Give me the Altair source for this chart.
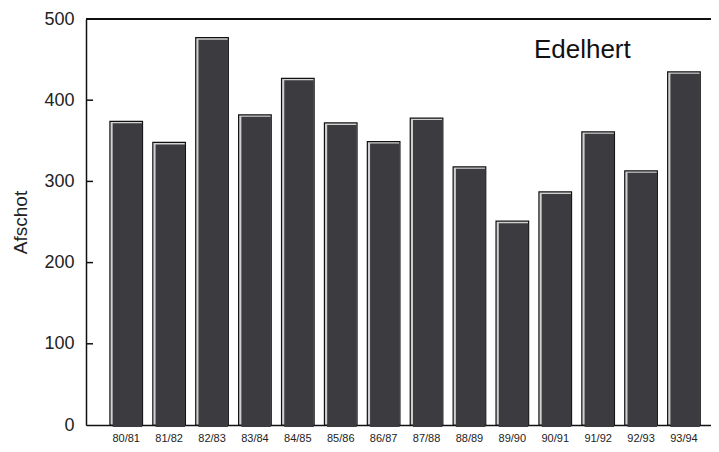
import altair as alt
import pandas as pd

seasons = ["80/81", "81/82", "82/83", "83/84", "84/85", "85/86", "86/87",
           "87/88", "88/89", "89/90", "90/91", "91/92", "92/93", "93/94"]
afschot = [374, 348, 477, 382, 427, 372, 349, 378, 318, 251, 287, 361, 313, 435]
tick_values = [100, 200, 300, 400]
y_labels = [0, 100, 200, 300, 400, 500]

W = 625
H = 406
FONT = "Liberation Sans"

df = pd.DataFrame({"seizoen": seasons, "afschot": afschot})
ticks_df = pd.DataFrame({"v": tick_values})

xscale = alt.Scale(domain=seasons, paddingInner=0.24, paddingOuter=0.404, align=0.69)
yscale = alt.Scale(domain=[0, 500], nice=False, zero=True)

x_enc = alt.X("seizoen:N", scale=xscale, sort=seasons, title=None,
              axis=alt.Axis(labelAngle=0, labelFontSize=11, labelFont=FONT,
                            labelColor="#222", labelPadding=7, ticks=False, tickSize=0,
                            domainColor="#111", domainWidth=1.5, grid=False))
y_enc = alt.Y("afschot:Q", scale=yscale,
              axis=alt.Axis(values=y_labels, labelFontSize=18, labelFont=FONT,
                            labelColor="#222", labelPadding=12, ticks=False, tickSize=0,
                            domainColor="#111", domainWidth=1.5, grid=False,
                            title="Afschot", titleFont=FONT, titleFontSize=19,
                            titleFontWeight="normal", titleColor="#222",
                            titleAngle=270, titleX=-66, titleY=203,
                            titleAlign="center", titleBaseline="middle"))

base_bar = alt.Chart(df).mark_bar(fill="#d0d0d0", stroke="#111", strokeWidth=1.2).encode(
    x=x_enc, y=y_enc)
inner_bar = alt.Chart(df).mark_bar(fill="#3b3b40", width=29.5, xOffset=1.2, yOffset=2).encode(
    x=alt.X("seizoen:N", scale=xscale, sort=seasons),
    y=alt.Y("afschot:Q", scale=yscale))

inward_ticks = alt.Chart(ticks_df).mark_rule(color="#111", strokeWidth=1.5).encode(
    y=alt.Y("v:Q", scale=yscale), x=alt.value(0), x2=alt.value(7))

top_line = alt.Chart(ticks_df).mark_rule(color="#111", strokeWidth=1.5).encode(
    y=alt.value(0), x=alt.value(0), x2=alt.value(W))

chart = alt.layer(base_bar, inner_bar, inward_ticks, top_line).properties(
    width=W, height=H,
    title=alt.TitleParams("Edelhert", anchor="end", font=FONT, fontSize=26,
                          fontWeight="normal", color="#111", dx=-81, dy=57),
    autosize=alt.AutoSizeParams(type="none"),
    padding={"left": 78, "top": 11, "right": 0, "bottom": 19},
).configure_view(stroke=None).configure(background="white")

chart.save("out.html", embed_options={"renderer": "svg", "actions": False})
